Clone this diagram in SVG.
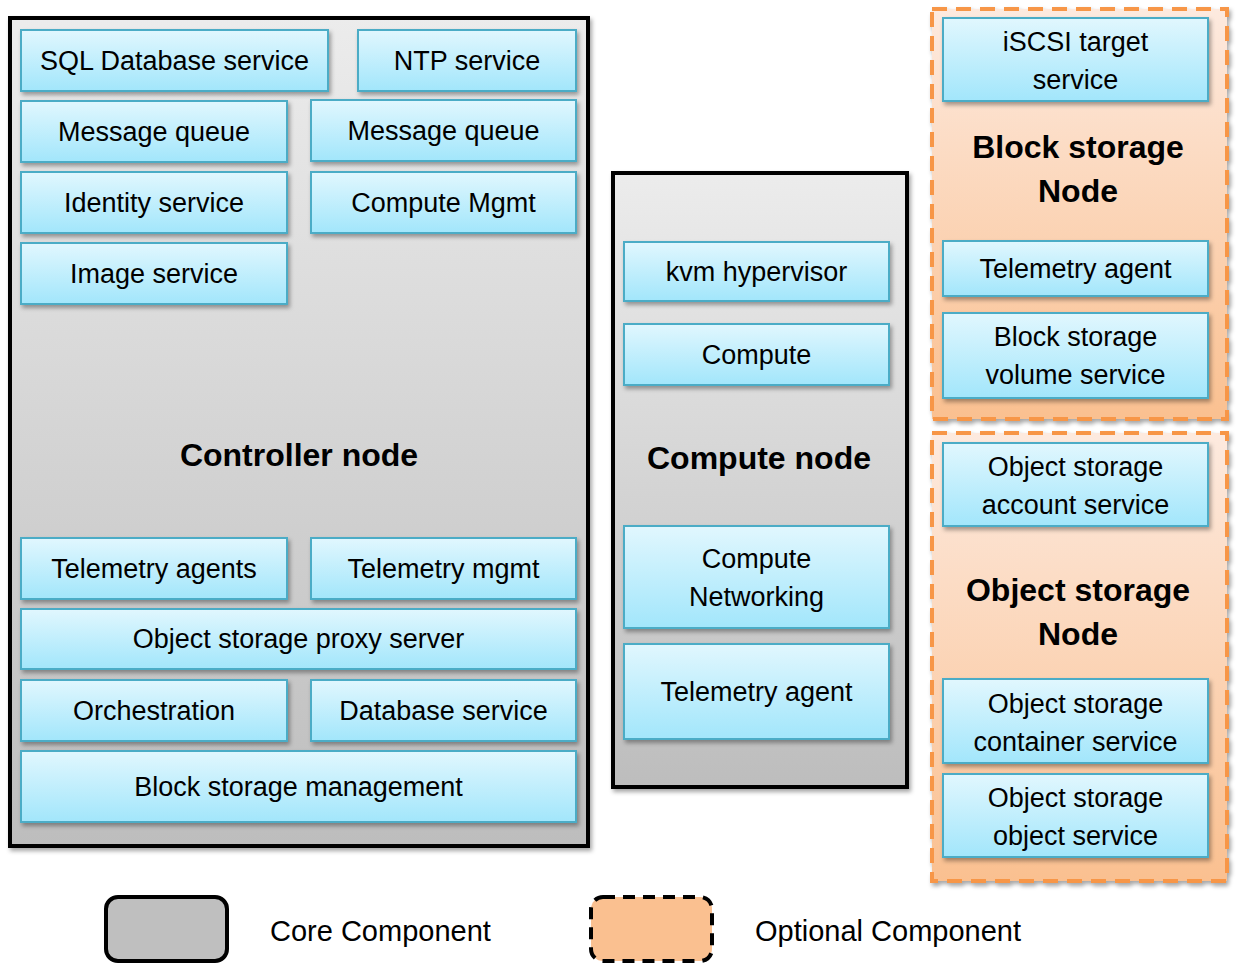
<svg xmlns="http://www.w3.org/2000/svg" width="1236" height="971" viewBox="0 0 1236 971">
<defs>
<linearGradient id="gBlue" x1="0" y1="0" x2="0" y2="1"><stop offset="0" stop-color="#e1f7fe"/><stop offset="1" stop-color="#a2e6fb"/></linearGradient>
<linearGradient id="gGray" x1="0" y1="0" x2="0" y2="1"><stop offset="0" stop-color="#ececec"/><stop offset="1" stop-color="#bdbdbd"/></linearGradient>
<linearGradient id="gOrange" x1="0" y1="0" x2="0" y2="1"><stop offset="0" stop-color="#fdeadf"/><stop offset="1" stop-color="#fac090"/></linearGradient>
<filter id="sh" x="-10%" y="-20%" width="120%" height="150%"><feDropShadow dx="2" dy="3" stdDeviation="2" flood-color="#000" flood-opacity="0.35"/></filter>
</defs>
<style>
.b{fill:url(#gBlue);stroke:#4bacc6;stroke-width:2;filter:url(#sh)}
.core{fill:url(#gGray);stroke:#000;stroke-width:4;filter:url(#sh)}
.opt{fill:url(#gOrange);stroke:#f79646;stroke-width:4;stroke-dasharray:15 9;filter:url(#sh)}
text{font-family:"Liberation Sans",Arial,sans-serif;fill:#000;text-anchor:middle}
.t{font-size:27px}
.h{font-size:32px;font-weight:bold}
.l{font-size:29px;text-anchor:start}
</style>

<g id="controller-node">
<rect class="core" x="10" y="18" width="578" height="828"/>
<text class="h" x="299" y="466">Controller node</text>
</g>
<g id="sql"><rect class="b" x="21" y="30" width="307" height="61"/><text class="t" x="174.5" y="70">SQL Database service</text></g>
<g id="ntp"><rect class="b" x="358" y="30" width="218" height="61"/><text class="t" x="467" y="70">NTP service</text></g>
<g id="mq1"><rect class="b" x="21" y="101" width="266" height="61"/><text class="t" x="154" y="141">Message queue</text></g>
<g id="mq2"><rect class="b" x="311" y="100" width="265" height="61"/><text class="t" x="443.5" y="140">Message queue</text></g>
<g id="identity"><rect class="b" x="21" y="172" width="266" height="61"/><text class="t" x="154" y="212">Identity service</text></g>
<g id="compute-mgmt"><rect class="b" x="311" y="172" width="265" height="61"/><text class="t" x="443.5" y="212">Compute Mgmt</text></g>
<g id="image"><rect class="b" x="21" y="243" width="266" height="61"/><text class="t" x="154" y="283">Image service</text></g>
<g id="tel-agents"><rect class="b" x="21" y="538" width="266" height="61"/><text class="t" x="154" y="578">Telemetry agents</text></g>
<g id="tel-mgmt"><rect class="b" x="311" y="538" width="265" height="61"/><text class="t" x="443.5" y="578">Telemetry mgmt</text></g>
<g id="obj-proxy"><rect class="b" x="21" y="609" width="555" height="60"/><text class="t" x="298.5" y="648">Object storage proxy server</text></g>
<g id="orchestration"><rect class="b" x="21" y="680" width="266" height="61"/><text class="t" x="154" y="720">Orchestration</text></g>
<g id="database"><rect class="b" x="311" y="680" width="265" height="61"/><text class="t" x="443.5" y="720">Database service</text></g>
<g id="block-mgmt"><rect class="b" x="21" y="751" width="555" height="71"/><text class="t" x="298.5" y="796">Block storage management</text></g>

<g id="compute-node">
<rect class="core" x="613" y="173" width="294" height="614"/>
<text class="h" x="759" y="469">Compute node</text>
</g>
<g id="kvm"><rect class="b" x="624" y="242" width="265" height="59"/><text class="t" x="756.5" y="281">kvm hypervisor</text></g>
<g id="compute"><rect class="b" x="624" y="324" width="265" height="61"/><text class="t" x="756.5" y="364">Compute</text></g>
<g id="compute-net"><rect class="b" x="624" y="526" width="265" height="102"/><text class="t" x="756.5" y="568">Compute</text><text class="t" x="756.5" y="606">Networking</text></g>
<g id="tel-agent-c"><rect class="b" x="624" y="644" width="265" height="95"/><text class="t" x="756.5" y="701">Telemetry agent</text></g>

<g id="block-node">
<rect class="opt" x="932" y="9" width="295" height="410"/>
<text class="h" x="1078" y="158">Block storage</text>
<text class="h" x="1078" y="202">Node</text>
</g>
<g id="iscsi"><rect class="b" x="943" y="18" width="265" height="83"/><text class="t" x="1075.5" y="51">iSCSI target</text><text class="t" x="1075.5" y="89">service</text></g>
<g id="tel-agent-b"><rect class="b" x="943" y="241" width="265" height="55"/><text class="t" x="1075.5" y="278">Telemetry agent</text></g>
<g id="block-vol"><rect class="b" x="943" y="313" width="265" height="85"/><text class="t" x="1075.5" y="346">Block storage</text><text class="t" x="1075.5" y="384">volume service</text></g>

<g id="object-node">
<rect class="opt" x="932" y="433" width="295" height="448"/>
<text class="h" x="1078" y="601">Object storage</text>
<text class="h" x="1078" y="645">Node</text>
</g>
<g id="obj-account"><rect class="b" x="943" y="443" width="265" height="83"/><text class="t" x="1075.5" y="476">Object storage</text><text class="t" x="1075.5" y="514">account service</text></g>
<g id="obj-container"><rect class="b" x="943" y="679" width="265" height="84"/><text class="t" x="1075.5" y="713">Object storage</text><text class="t" x="1075.5" y="751">container service</text></g>
<g id="obj-object"><rect class="b" x="943" y="774" width="265" height="83"/><text class="t" x="1075.5" y="807">Object storage</text><text class="t" x="1075.5" y="845">object service</text></g>

<g id="connectors"></g>

<g id="legend">
<rect x="106" y="897" width="121" height="64" rx="12" fill="#bfbfbf" stroke="#000" stroke-width="4"/>
<text class="l" x="270" y="941">Core Component</text>
<rect x="591" y="897" width="121" height="64" rx="12" fill="#fac090" stroke="#000" stroke-width="4" stroke-dasharray="12 8"/>
<text class="l" x="755" y="941">Optional Component</text>
</g>
</svg>
